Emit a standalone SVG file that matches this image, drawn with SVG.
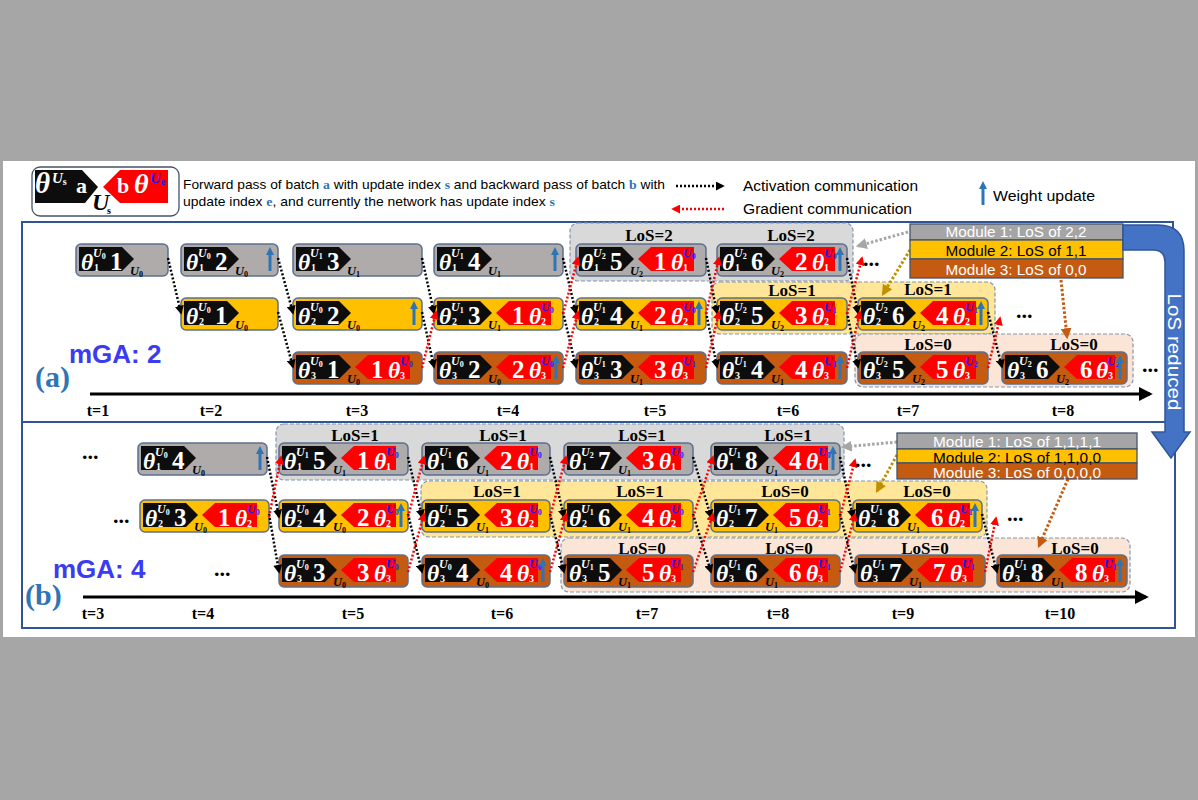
<svg xmlns="http://www.w3.org/2000/svg" xmlns:xlink="http://www.w3.org/1999/xlink" width="1198" height="800" viewBox="0 0 1198 800">
<style>
.box{stroke:#5B7090;stroke-width:1.5}
.g{fill:#AFABAB}.y{fill:#FFC000}.o{fill:#C55A11}
.fw{fill:#0d0d0d}.bw{fill:#FF0000}
.th{font-family:'Liberation Serif',serif;font-style:italic;font-weight:bold;font-size:23.5px;fill:#fff}
.sp{font-family:'Liberation Serif',serif;font-style:italic;font-weight:bold;font-size:12px;fill:#fff}
.bl{fill:#1a1aff}
.ss{font-size:8px;font-style:normal}
.sb{font-family:'Liberation Serif',serif;font-weight:bold;font-size:10px;fill:#fff}
.dg{font-family:'Liberation Serif',serif;font-weight:bold;font-size:25px;fill:#fff}
.ul{font-family:'Liberation Serif',serif;font-style:italic;font-weight:bold;font-size:12.5px;fill:#000}
.grp{stroke:#8497B0;stroke-width:1.2;stroke-dasharray:4 2}
.los{font-family:'Liberation Serif',serif;font-weight:bold;font-size:17px;fill:#000;text-anchor:middle}
.tl{font-family:'Liberation Serif',serif;font-weight:bold;font-size:16px;fill:#000;text-anchor:middle}
.dots{font-family:'Liberation Serif',serif;font-weight:bold;font-size:22px;fill:#000}
.act{fill:none;stroke:#000;stroke-width:2.5;stroke-dasharray:2 2;marker-end:url(#mk)}
.grd{fill:none;stroke:#FF0000;stroke-width:2.5;stroke-dasharray:2 2;marker-end:url(#mr)}
.mod{font-family:'Liberation Sans',sans-serif;font-size:15px;text-anchor:middle}
.mstroke{stroke:#44546A;stroke-width:1.3}
.frame{fill:none;stroke:#2F5597;stroke-width:2}
.leg{font-family:'Liberation Sans',sans-serif;font-size:13.5px;fill:#000}
.lc{font-family:'Liberation Serif',serif;font-weight:bold;fill:#2E75B6}
.mga{font-family:'Liberation Sans',sans-serif;font-weight:bold;font-size:26px;fill:#3B3BF0}
.pl{font-family:'Liberation Serif',serif;font-weight:bold;font-size:30px;fill:#2E75B6}
</style>
<defs>
<marker id="mk" viewBox="0 0 10 10" refX="8" refY="5" markerWidth="9" markerHeight="9" markerUnits="userSpaceOnUse" orient="auto"><path d="M0,0L10,5L0,10Z" fill="#000"/></marker>
<marker id="mr" viewBox="0 0 10 10" refX="8" refY="5" markerWidth="9" markerHeight="9" markerUnits="userSpaceOnUse" orient="auto"><path d="M0,0L10,5L0,10Z" fill="#FF0000"/></marker>
<marker id="mg" viewBox="0 0 10 10" refX="8" refY="5" markerWidth="11" markerHeight="11" markerUnits="userSpaceOnUse" orient="auto"><path d="M0,0L10,5L0,10Z" fill="#A6A6A6"/></marker>
<marker id="my" viewBox="0 0 10 10" refX="8" refY="5" markerWidth="11" markerHeight="11" markerUnits="userSpaceOnUse" orient="auto"><path d="M0,0L10,5L0,10Z" fill="#BF9000"/></marker>
<marker id="mo" viewBox="0 0 10 10" refX="8" refY="5" markerWidth="11" markerHeight="11" markerUnits="userSpaceOnUse" orient="auto"><path d="M0,0L10,5L0,10Z" fill="#C55A11"/></marker>
<marker id="ma" viewBox="0 0 10 10" refX="8" refY="5" markerWidth="14" markerHeight="14" markerUnits="userSpaceOnUse" orient="auto"><path d="M0,0L10,5L0,10Z" fill="#000"/></marker>
<g id="wu"><path d="M0,27V10" stroke="#2E75B6" stroke-width="3"/><path d="M-4,11L0,3L4,11Z" fill="#2E75B6"/></g>
</defs>

<rect width="1198" height="800" fill="#A6A6A6"/>
<rect x="3" y="161" width="1192" height="476" fill="#fff"/>

<!-- Legend -->
<g id="legend">
<g id="legend-key">
<rect x="32" y="167" width="147" height="49" rx="8" fill="#fff" stroke="#44546A" stroke-width="1.3"/>
<path d="M35,170H82L98,187L85,203H35Z" fill="#0d0d0d"/>
<path d="M103,187L120,170H168V203H120Z" fill="#f00"/>
<text x="35" y="193" font-family="'Liberation Serif',serif" font-style="italic" font-weight="bold" font-size="29" fill="#fff">θ</text>
<text x="52" y="183" font-family="'Liberation Serif',serif" font-style="italic" font-weight="bold" font-size="15" fill="#fff">U<tspan font-size="10" font-style="normal" dy="2">s</tspan></text>
<text x="76" y="193" font-family="'Liberation Serif',serif" font-weight="bold" font-size="22" fill="#fff">a</text>
<text x="92" y="210" font-family="'Liberation Serif',serif" font-style="italic" font-weight="bold" font-size="24" fill="#000">U</text>
<text x="107" y="214" font-family="'Liberation Serif',serif" font-weight="bold" font-size="10" fill="#000">s</text>
<text x="117" y="193" font-family="'Liberation Serif',serif" font-weight="bold" font-size="22" fill="#fff">b</text>
<text x="134" y="193" font-family="'Liberation Serif',serif" font-style="italic" font-weight="bold" font-size="28" fill="#fff">θ</text>
<text x="150" y="183" font-family="'Liberation Serif',serif" font-style="italic" font-weight="bold" font-size="15" fill="#1a1aff">U<tspan font-size="10" font-style="normal" dy="2">e</tspan></text>
</g>
<text class="leg" x="183" y="189" textLength="482" lengthAdjust="spacingAndGlyphs">Forward pass of batch <tspan class="lc">a</tspan> with update index <tspan class="lc">s</tspan> and backward pass of batch <tspan class="lc">b</tspan> with</text>
<text class="leg" x="183" y="206" textLength="372" lengthAdjust="spacingAndGlyphs">update index <tspan class="lc">e</tspan>, and currently the network has update index <tspan class="lc">s</tspan></text>
<path d="M676,186H723" class="act"/>
<text x="743" y="191" font-family="'Liberation Sans',sans-serif" font-size="14" textLength="175" lengthAdjust="spacingAndGlyphs">Activation communication</text>
<path d="M724,209H673" class="grd"/>
<text x="743" y="214" font-family="'Liberation Sans',sans-serif" font-size="14" textLength="169" lengthAdjust="spacingAndGlyphs">Gradient communication</text>
<use href="#wu" x="983" y="178"/>
<text x="993" y="201" font-family="'Liberation Sans',sans-serif" font-size="14" textLength="102" lengthAdjust="spacingAndGlyphs">Weight update</text>
</g>

<!-- Panel frames -->
<rect class="frame" x="22" y="222" width="1151" height="200"/>
<rect class="frame" x="22" y="422" width="1153" height="206"/>

<!-- LoS groups panel a -->
<g id="a-groups">
<rect class="grp" x="570" y="223" width="283" height="58" rx="8" fill="#D9D9D9"/>
<rect class="grp" x="712" y="282" width="283" height="52" rx="8" fill="#FFE699"/>
<rect class="grp" x="855" y="334" width="278" height="53" rx="8" fill="#FBE5D6"/>
<text class="los" x="649" y="241">LoS=2</text>
<text class="los" x="791" y="241">LoS=2</text>
<text class="los" x="792" y="296">LoS=1</text>
<text class="los" x="928" y="295">LoS=1</text>
<text class="los" x="928" y="350">LoS=0</text>
<text class="los" x="1074" y="350">LoS=0</text>
</g>

<!-- LoS groups panel b -->
<g id="b-groups">
<rect class="grp" x="276" y="424" width="568" height="56" rx="8" fill="#D9D9D9"/>
<rect class="grp" x="421" y="481" width="566" height="56" rx="8" fill="#FFE699"/>
<rect class="grp" x="561" y="538" width="569" height="54" rx="8" fill="#FBE5D6"/>
<text class="los" x="355" y="441">LoS=1</text>
<text class="los" x="503" y="441">LoS=1</text>
<text class="los" x="642" y="441">LoS=1</text>
<text class="los" x="788" y="441">LoS=1</text>
<text class="los" x="497" y="497">LoS=1</text>
<text class="los" x="640" y="497">LoS=1</text>
<text class="los" x="785" y="497">LoS=0</text>
<text class="los" x="927" y="497">LoS=0</text>
<text class="los" x="642" y="554">LoS=0</text>
<text class="los" x="789" y="554">LoS=0</text>
<text class="los" x="925" y="554">LoS=0</text>
<text class="los" x="1075" y="554">LoS=0</text>
</g>

<!-- Panel a nodes -->
<g id="a-t1-m1" transform="translate(76,244)"><rect class="box g" width="92" height="32" rx="5"/><path class="fw" d="M3,3H46L58,15L46,27H3Z"/><text class="th" x="5" y="26">θ</text><text class="sp" x="17" y="13">U<tspan class="ss" dy="2">0</tspan></text><text class="sb" x="18" y="27">1</text><text class="dg" x="34" y="26">1</text><text class="ul" x="54" y="31">U<tspan class="ss" dy="2">0</tspan></text></g>

<g id="a-t2-m1" transform="translate(181,244)"><rect class="box g" width="97" height="32" rx="5"/><path class="fw" d="M3,3H46L58,15L46,27H3Z"/><text class="th" x="5" y="26">θ</text><text class="sp" x="17" y="13">U<tspan class="ss" dy="2">0</tspan></text><text class="sb" x="18" y="27">1</text><text class="dg" x="34" y="26">2</text><text class="ul" x="54" y="31">U<tspan class="ss" dy="2">0</tspan></text><use href="#wu" x="89"/></g>

<g id="a-t2-m2" transform="translate(181,298)"><rect class="box y" width="97" height="32" rx="5"/><path class="fw" d="M3,3H46L58,15L46,27H3Z"/><text class="th" x="5" y="26">θ</text><text class="sp" x="17" y="13">U<tspan class="ss" dy="2">0</tspan></text><text class="sb" x="18" y="27">2</text><text class="dg" x="34" y="26">1</text><text class="ul" x="54" y="31">U<tspan class="ss" dy="2">0</tspan></text></g>

<g id="a-t3-m1" transform="translate(293,244)"><rect class="box g" width="129" height="32" rx="5"/><path class="fw" d="M3,3H46L58,15L46,27H3Z"/><text class="th" x="5" y="26">θ</text><text class="sp" x="17" y="13">U<tspan class="ss" dy="2">1</tspan></text><text class="sb" x="18" y="27">1</text><text class="dg" x="34" y="26">3</text><text class="ul" x="54" y="31">U<tspan class="ss" dy="2">1</tspan></text></g>

<g id="a-t3-m2" transform="translate(293,298)"><rect class="box y" width="129" height="32" rx="5"/><path class="fw" d="M3,3H46L58,15L46,27H3Z"/><text class="th" x="5" y="26">θ</text><text class="sp" x="17" y="13">U<tspan class="ss" dy="2">0</tspan></text><text class="sb" x="18" y="27">2</text><text class="dg" x="34" y="26">2</text><text class="ul" x="54" y="31">U<tspan class="ss" dy="2">0</tspan></text><use href="#wu" x="121"/></g>

<g id="a-t3-m3" transform="translate(293,352)"><rect class="box o" width="129" height="32" rx="5"/><path class="fw" d="M3,3H46L58,15L46,27H3Z"/><text class="th" x="5" y="26">θ</text><text class="sp" x="17" y="13">U<tspan class="ss" dy="2">0</tspan></text><text class="sb" x="18" y="27">3</text><text class="dg" x="34" y="26">1</text><text class="ul" x="54" y="31">U<tspan class="ss" dy="2">0</tspan></text><path class="bw" d="M62,15L75,3H117V27H75Z"/><text class="dg" x="78" y="26">1</text><text class="th" x="95" y="26">θ</text><text class="sp bl" x="107" y="13">U<tspan class="ss" dy="2">0</tspan></text><text class="sb" x="107" y="27">3</text></g>

<g id="a-t4-m1" transform="translate(434,244)"><rect class="box g" width="129" height="32" rx="5"/><path class="fw" d="M3,3H46L58,15L46,27H3Z"/><text class="th" x="5" y="26">θ</text><text class="sp" x="17" y="13">U<tspan class="ss" dy="2">1</tspan></text><text class="sb" x="18" y="27">1</text><text class="dg" x="34" y="26">4</text><text class="ul" x="54" y="31">U<tspan class="ss" dy="2">1</tspan></text><use href="#wu" x="121"/></g>

<g id="a-t4-m2" transform="translate(434,298)"><rect class="box y" width="129" height="32" rx="5"/><path class="fw" d="M3,3H46L58,15L46,27H3Z"/><text class="th" x="5" y="26">θ</text><text class="sp" x="17" y="13">U<tspan class="ss" dy="2">1</tspan></text><text class="sb" x="18" y="27">2</text><text class="dg" x="34" y="26">3</text><text class="ul" x="54" y="31">U<tspan class="ss" dy="2">1</tspan></text><path class="bw" d="M62,15L75,3H117V27H75Z"/><text class="dg" x="78" y="26">1</text><text class="th" x="95" y="26">θ</text><text class="sp bl" x="107" y="13">U<tspan class="ss" dy="2">0</tspan></text><text class="sb" x="107" y="27">2</text></g>

<g id="a-t4-m3" transform="translate(434,352)"><rect class="box o" width="129" height="32" rx="5"/><path class="fw" d="M3,3H46L58,15L46,27H3Z"/><text class="th" x="5" y="26">θ</text><text class="sp" x="17" y="13">U<tspan class="ss" dy="2">0</tspan></text><text class="sb" x="18" y="27">3</text><text class="dg" x="34" y="26">2</text><text class="ul" x="54" y="31">U<tspan class="ss" dy="2">0</tspan></text><path class="bw" d="M62,15L75,3H117V27H75Z"/><text class="dg" x="78" y="26">2</text><text class="th" x="95" y="26">θ</text><text class="sp bl" x="107" y="13">U<tspan class="ss" dy="2">0</tspan></text><text class="sb" x="107" y="27">3</text><use href="#wu" x="122"/></g>

<g id="a-t5-m1" transform="translate(576,244)"><rect class="box g" width="130" height="32" rx="5"/><path class="fw" d="M3,3H46L58,15L46,27H3Z"/><text class="th" x="5" y="26">θ</text><text class="sp" x="17" y="13">U<tspan class="ss" dy="2">2</tspan></text><text class="sb" x="18" y="27">1</text><text class="dg" x="34" y="26">5</text><text class="ul" x="54" y="31">U<tspan class="ss" dy="2">2</tspan></text><path class="bw" d="M62,15L75,3H118V27H75Z"/><text class="dg" x="78" y="26">1</text><text class="th" x="95" y="26">θ</text><text class="sp bl" x="107" y="13">U<tspan class="ss" dy="2">0</tspan></text><text class="sb" x="107" y="27">1</text></g>

<g id="a-t5-m2" transform="translate(576,298)"><rect class="box y" width="130" height="32" rx="5"/><path class="fw" d="M3,3H46L58,15L46,27H3Z"/><text class="th" x="5" y="26">θ</text><text class="sp" x="17" y="13">U<tspan class="ss" dy="2">1</tspan></text><text class="sb" x="18" y="27">2</text><text class="dg" x="34" y="26">4</text><text class="ul" x="54" y="31">U<tspan class="ss" dy="2">1</tspan></text><path class="bw" d="M62,15L75,3H118V27H75Z"/><text class="dg" x="78" y="26">2</text><text class="th" x="95" y="26">θ</text><text class="sp bl" x="107" y="13">U<tspan class="ss" dy="2">0</tspan></text><text class="sb" x="107" y="27">2</text><use href="#wu" x="123"/></g>

<g id="a-t5-m3" transform="translate(576,352)"><rect class="box o" width="130" height="32" rx="5"/><path class="fw" d="M3,3H46L58,15L46,27H3Z"/><text class="th" x="5" y="26">θ</text><text class="sp" x="17" y="13">U<tspan class="ss" dy="2">1</tspan></text><text class="sb" x="18" y="27">3</text><text class="dg" x="34" y="26">3</text><text class="ul" x="54" y="31">U<tspan class="ss" dy="2">1</tspan></text><path class="bw" d="M62,15L75,3H118V27H75Z"/><text class="dg" x="78" y="26">3</text><text class="th" x="95" y="26">θ</text><text class="sp bl" x="107" y="13">U<tspan class="ss" dy="2">1</tspan></text><text class="sb" x="107" y="27">3</text></g>

<g id="a-t6-m1" transform="translate(717,244)"><rect class="box g" width="130" height="32" rx="5"/><path class="fw" d="M3,3H46L58,15L46,27H3Z"/><text class="th" x="5" y="26">θ</text><text class="sp" x="17" y="13">U<tspan class="ss" dy="2">2</tspan></text><text class="sb" x="18" y="27">1</text><text class="dg" x="34" y="26">6</text><text class="ul" x="54" y="31">U<tspan class="ss" dy="2">2</tspan></text><path class="bw" d="M62,15L75,3H118V27H75Z"/><text class="dg" x="78" y="26">2</text><text class="th" x="95" y="26">θ</text><text class="sp bl" x="107" y="13">U<tspan class="ss" dy="2">0</tspan></text><text class="sb" x="107" y="27">1</text><use href="#wu" x="123"/></g>

<g id="a-t6-m2" transform="translate(717,298)"><rect class="box y" width="130" height="32" rx="5"/><path class="fw" d="M3,3H46L58,15L46,27H3Z"/><text class="th" x="5" y="26">θ</text><text class="sp" x="17" y="13">U<tspan class="ss" dy="2">2</tspan></text><text class="sb" x="18" y="27">2</text><text class="dg" x="34" y="26">5</text><text class="ul" x="54" y="31">U<tspan class="ss" dy="2">2</tspan></text><path class="bw" d="M62,15L75,3H118V27H75Z"/><text class="dg" x="78" y="26">3</text><text class="th" x="95" y="26">θ</text><text class="sp bl" x="107" y="13">U<tspan class="ss" dy="2">1</tspan></text><text class="sb" x="107" y="27">2</text></g>

<g id="a-t6-m3" transform="translate(717,352)"><rect class="box o" width="130" height="32" rx="5"/><path class="fw" d="M3,3H46L58,15L46,27H3Z"/><text class="th" x="5" y="26">θ</text><text class="sp" x="17" y="13">U<tspan class="ss" dy="2">1</tspan></text><text class="sb" x="18" y="27">3</text><text class="dg" x="34" y="26">4</text><text class="ul" x="54" y="31">U<tspan class="ss" dy="2">1</tspan></text><path class="bw" d="M62,15L75,3H118V27H75Z"/><text class="dg" x="78" y="26">4</text><text class="th" x="95" y="26">θ</text><text class="sp bl" x="107" y="13">U<tspan class="ss" dy="2">1</tspan></text><text class="sb" x="107" y="27">3</text><use href="#wu" x="123"/></g>

<g id="a-t7-m2" transform="translate(858,298)"><rect class="box y" width="130" height="32" rx="5"/><path class="fw" d="M3,3H46L58,15L46,27H3Z"/><text class="th" x="5" y="26">θ</text><text class="sp" x="17" y="13">U<tspan class="ss" dy="2">2</tspan></text><text class="sb" x="18" y="27">2</text><text class="dg" x="34" y="26">6</text><text class="ul" x="54" y="31">U<tspan class="ss" dy="2">2</tspan></text><path class="bw" d="M62,15L75,3H118V27H75Z"/><text class="dg" x="78" y="26">4</text><text class="th" x="95" y="26">θ</text><text class="sp bl" x="107" y="13">U<tspan class="ss" dy="2">1</tspan></text><text class="sb" x="107" y="27">2</text><use href="#wu" x="123"/></g>

<g id="a-t7-m3" transform="translate(858,352)"><rect class="box o" width="130" height="32" rx="5"/><path class="fw" d="M3,3H46L58,15L46,27H3Z"/><text class="th" x="5" y="26">θ</text><text class="sp" x="17" y="13">U<tspan class="ss" dy="2">2</tspan></text><text class="sb" x="18" y="27">3</text><text class="dg" x="34" y="26">5</text><text class="ul" x="54" y="31">U<tspan class="ss" dy="2">2</tspan></text><path class="bw" d="M62,15L75,3H118V27H75Z"/><text class="dg" x="78" y="26">5</text><text class="th" x="95" y="26">θ</text><text class="sp bl" x="107" y="13">U<tspan class="ss" dy="2">2</tspan></text><text class="sb" x="107" y="27">3</text></g>

<g id="a-t8-m3" transform="translate(1002,352)"><rect class="box o" width="125" height="32" rx="5"/><path class="fw" d="M3,3H46L58,15L46,27H3Z"/><text class="th" x="5" y="26">θ</text><text class="sp" x="17" y="13">U<tspan class="ss" dy="2">2</tspan></text><text class="sb" x="18" y="27">3</text><text class="dg" x="34" y="26">6</text><text class="ul" x="54" y="31">U<tspan class="ss" dy="2">2</tspan></text><path class="bw" d="M62,15L75,3H113V27H75Z"/><text class="dg" x="78" y="26">6</text><text class="th" x="94" y="26">θ</text><text class="sp bl" x="105" y="13">U<tspan class="ss" dy="2">2</tspan></text><text class="sb" x="106" y="27">3</text><use href="#wu" x="118"/></g>

<!-- Panel b nodes -->
<g id="b-t4-m1" transform="translate(138,443)"><rect class="box g" width="129" height="32" rx="5"/><path class="fw" d="M3,3H46L58,15L46,27H3Z"/><text class="th" x="5" y="26">θ</text><text class="sp" x="17" y="13">U<tspan class="ss" dy="2">0</tspan></text><text class="sb" x="18" y="27">1</text><text class="dg" x="34" y="26">4</text><text class="ul" x="54" y="31">U<tspan class="ss" dy="2">0</tspan></text><use href="#wu" x="122"/></g>

<g id="b-t4-m2" transform="translate(140,500)"><rect class="box y" width="129" height="32" rx="5"/><path class="fw" d="M3,3H46L58,15L46,27H3Z"/><text class="th" x="5" y="26">θ</text><text class="sp" x="17" y="13">U<tspan class="ss" dy="2">0</tspan></text><text class="sb" x="18" y="27">2</text><text class="dg" x="34" y="26">3</text><text class="ul" x="54" y="31">U<tspan class="ss" dy="2">0</tspan></text><path class="bw" d="M62,15L75,3H117V27H75Z"/><text class="dg" x="78" y="26">1</text><text class="th" x="95" y="26">θ</text><text class="sp bl" x="107" y="13">U<tspan class="ss" dy="2">0</tspan></text><text class="sb" x="107" y="27">2</text></g>

<g id="b-t5-m1" transform="translate(279,443)"><rect class="box g" width="129" height="32" rx="5"/><path class="fw" d="M3,3H46L58,15L46,27H3Z"/><text class="th" x="5" y="26">θ</text><text class="sp" x="17" y="13">U<tspan class="ss" dy="2">1</tspan></text><text class="sb" x="18" y="27">1</text><text class="dg" x="34" y="26">5</text><text class="ul" x="54" y="31">U<tspan class="ss" dy="2">1</tspan></text><path class="bw" d="M62,15L75,3H117V27H75Z"/><text class="dg" x="78" y="26">1</text><text class="th" x="95" y="26">θ</text><text class="sp bl" x="107" y="13">U<tspan class="ss" dy="2">0</tspan></text><text class="sb" x="107" y="27">1</text></g>

<g id="b-t5-m2" transform="translate(279,500)"><rect class="box y" width="129" height="32" rx="5"/><path class="fw" d="M3,3H46L58,15L46,27H3Z"/><text class="th" x="5" y="26">θ</text><text class="sp" x="17" y="13">U<tspan class="ss" dy="2">0</tspan></text><text class="sb" x="18" y="27">2</text><text class="dg" x="34" y="26">4</text><text class="ul" x="54" y="31">U<tspan class="ss" dy="2">0</tspan></text><path class="bw" d="M62,15L75,3H117V27H75Z"/><text class="dg" x="78" y="26">2</text><text class="th" x="95" y="26">θ</text><text class="sp bl" x="107" y="13">U<tspan class="ss" dy="2">0</tspan></text><text class="sb" x="107" y="27">2</text><use href="#wu" x="122"/></g>

<g id="b-t5-m3" transform="translate(279,555)"><rect class="box o" width="129" height="32" rx="5"/><path class="fw" d="M3,3H46L58,15L46,27H3Z"/><text class="th" x="5" y="26">θ</text><text class="sp" x="17" y="13">U<tspan class="ss" dy="2">0</tspan></text><text class="sb" x="18" y="27">3</text><text class="dg" x="34" y="26">3</text><text class="ul" x="54" y="31">U<tspan class="ss" dy="2">0</tspan></text><path class="bw" d="M62,15L75,3H117V27H75Z"/><text class="dg" x="78" y="26">3</text><text class="th" x="95" y="26">θ</text><text class="sp bl" x="107" y="13">U<tspan class="ss" dy="2">0</tspan></text><text class="sb" x="107" y="27">3</text></g>

<g id="b-t6-m1" transform="translate(422,443)"><rect class="box g" width="128" height="32" rx="5"/><path class="fw" d="M3,3H46L58,15L46,27H3Z"/><text class="th" x="5" y="26">θ</text><text class="sp" x="17" y="13">U<tspan class="ss" dy="2">1</tspan></text><text class="sb" x="18" y="27">1</text><text class="dg" x="34" y="26">6</text><text class="ul" x="54" y="31">U<tspan class="ss" dy="2">1</tspan></text><path class="bw" d="M62,15L75,3H116V27H75Z"/><text class="dg" x="78" y="26">2</text><text class="th" x="95" y="26">θ</text><text class="sp bl" x="107" y="13">U<tspan class="ss" dy="2">0</tspan></text><text class="sb" x="107" y="27">1</text></g>

<g id="b-t6-m2" transform="translate(422,500)"><rect class="box y" width="128" height="32" rx="5"/><path class="fw" d="M3,3H46L58,15L46,27H3Z"/><text class="th" x="5" y="26">θ</text><text class="sp" x="17" y="13">U<tspan class="ss" dy="2">1</tspan></text><text class="sb" x="18" y="27">2</text><text class="dg" x="34" y="26">5</text><text class="ul" x="54" y="31">U<tspan class="ss" dy="2">1</tspan></text><path class="bw" d="M62,15L75,3H116V27H75Z"/><text class="dg" x="78" y="26">3</text><text class="th" x="95" y="26">θ</text><text class="sp bl" x="107" y="13">U<tspan class="ss" dy="2">0</tspan></text><text class="sb" x="107" y="27">2</text></g>

<g id="b-t6-m3" transform="translate(422,555)"><rect class="box o" width="128" height="32" rx="5"/><path class="fw" d="M3,3H46L58,15L46,27H3Z"/><text class="th" x="5" y="26">θ</text><text class="sp" x="17" y="13">U<tspan class="ss" dy="2">0</tspan></text><text class="sb" x="18" y="27">3</text><text class="dg" x="34" y="26">4</text><text class="ul" x="54" y="31">U<tspan class="ss" dy="2">0</tspan></text><path class="bw" d="M62,15L75,3H116V27H75Z"/><text class="dg" x="78" y="26">4</text><text class="th" x="95" y="26">θ</text><text class="sp bl" x="107" y="13">U<tspan class="ss" dy="2">0</tspan></text><text class="sb" x="107" y="27">3</text><use href="#wu" x="121"/></g>

<g id="b-t7-m1" transform="translate(564,443)"><rect class="box g" width="129" height="32" rx="5"/><path class="fw" d="M3,3H46L58,15L46,27H3Z"/><text class="th" x="5" y="26">θ</text><text class="sp" x="17" y="13">U<tspan class="ss" dy="2">2</tspan></text><text class="sb" x="18" y="27">1</text><text class="dg" x="34" y="26">7</text><text class="ul" x="54" y="31">U<tspan class="ss" dy="2">1</tspan></text><path class="bw" d="M62,15L75,3H117V27H75Z"/><text class="dg" x="78" y="26">3</text><text class="th" x="95" y="26">θ</text><text class="sp bl" x="107" y="13">U<tspan class="ss" dy="2">0</tspan></text><text class="sb" x="107" y="27">1</text></g>

<g id="b-t7-m2" transform="translate(564,500)"><rect class="box y" width="129" height="32" rx="5"/><path class="fw" d="M3,3H46L58,15L46,27H3Z"/><text class="th" x="5" y="26">θ</text><text class="sp" x="17" y="13">U<tspan class="ss" dy="2">1</tspan></text><text class="sb" x="18" y="27">2</text><text class="dg" x="34" y="26">6</text><text class="ul" x="54" y="31">U<tspan class="ss" dy="2">1</tspan></text><path class="bw" d="M62,15L75,3H117V27H75Z"/><text class="dg" x="78" y="26">4</text><text class="th" x="95" y="26">θ</text><text class="sp bl" x="107" y="13">U<tspan class="ss" dy="2">0</tspan></text><text class="sb" x="107" y="27">2</text></g>

<g id="b-t7-m3" transform="translate(564,555)"><rect class="box o" width="129" height="32" rx="5"/><path class="fw" d="M3,3H46L58,15L46,27H3Z"/><text class="th" x="5" y="26">θ</text><text class="sp" x="17" y="13">U<tspan class="ss" dy="2">1</tspan></text><text class="sb" x="18" y="27">3</text><text class="dg" x="34" y="26">5</text><text class="ul" x="54" y="31">U<tspan class="ss" dy="2">1</tspan></text><path class="bw" d="M62,15L75,3H117V27H75Z"/><text class="dg" x="78" y="26">5</text><text class="th" x="95" y="26">θ</text><text class="sp bl" x="107" y="13">U<tspan class="ss" dy="2">1</tspan></text><text class="sb" x="107" y="27">3</text></g>

<g id="b-t8-m1" transform="translate(711,443)"><rect class="box g" width="129" height="32" rx="5"/><path class="fw" d="M3,3H46L58,15L46,27H3Z"/><text class="th" x="5" y="26">θ</text><text class="sp" x="17" y="13">U<tspan class="ss" dy="2">1</tspan></text><text class="sb" x="18" y="27">1</text><text class="dg" x="34" y="26">8</text><text class="ul" x="54" y="31">U<tspan class="ss" dy="2">1</tspan></text><path class="bw" d="M62,15L75,3H117V27H75Z"/><text class="dg" x="78" y="26">4</text><text class="th" x="95" y="26">θ</text><text class="sp bl" x="107" y="13">U<tspan class="ss" dy="2">0</tspan></text><text class="sb" x="107" y="27">1</text><use href="#wu" x="122"/></g>

<g id="b-t8-m2" transform="translate(711,500)"><rect class="box y" width="129" height="32" rx="5"/><path class="fw" d="M3,3H46L58,15L46,27H3Z"/><text class="th" x="5" y="26">θ</text><text class="sp" x="17" y="13">U<tspan class="ss" dy="2">1</tspan></text><text class="sb" x="18" y="27">2</text><text class="dg" x="34" y="26">7</text><text class="ul" x="54" y="31">U<tspan class="ss" dy="2">1</tspan></text><path class="bw" d="M62,15L75,3H117V27H75Z"/><text class="dg" x="78" y="26">5</text><text class="th" x="95" y="26">θ</text><text class="sp bl" x="107" y="13">U<tspan class="ss" dy="2">1</tspan></text><text class="sb" x="107" y="27">2</text></g>

<g id="b-t8-m3" transform="translate(711,555)"><rect class="box o" width="129" height="32" rx="5"/><path class="fw" d="M3,3H46L58,15L46,27H3Z"/><text class="th" x="5" y="26">θ</text><text class="sp" x="17" y="13">U<tspan class="ss" dy="2">1</tspan></text><text class="sb" x="18" y="27">3</text><text class="dg" x="34" y="26">6</text><text class="ul" x="54" y="31">U<tspan class="ss" dy="2">1</tspan></text><path class="bw" d="M62,15L75,3H117V27H75Z"/><text class="dg" x="78" y="26">6</text><text class="th" x="95" y="26">θ</text><text class="sp bl" x="107" y="13">U<tspan class="ss" dy="2">1</tspan></text><text class="sb" x="107" y="27">3</text></g>

<g id="b-t9-m2" transform="translate(853,500)"><rect class="box y" width="129" height="32" rx="5"/><path class="fw" d="M3,3H46L58,15L46,27H3Z"/><text class="th" x="5" y="26">θ</text><text class="sp" x="17" y="13">U<tspan class="ss" dy="2">1</tspan></text><text class="sb" x="18" y="27">2</text><text class="dg" x="34" y="26">8</text><text class="ul" x="54" y="31">U<tspan class="ss" dy="2">1</tspan></text><path class="bw" d="M62,15L75,3H117V27H75Z"/><text class="dg" x="78" y="26">6</text><text class="th" x="95" y="26">θ</text><text class="sp bl" x="107" y="13">U<tspan class="ss" dy="2">1</tspan></text><text class="sb" x="107" y="27">2</text><use href="#wu" x="122"/></g>

<g id="b-t9-m3" transform="translate(855,555)"><rect class="box o" width="130" height="32" rx="5"/><path class="fw" d="M3,3H46L58,15L46,27H3Z"/><text class="th" x="5" y="26">θ</text><text class="sp" x="17" y="13">U<tspan class="ss" dy="2">1</tspan></text><text class="sb" x="18" y="27">3</text><text class="dg" x="34" y="26">7</text><text class="ul" x="54" y="31">U<tspan class="ss" dy="2">1</tspan></text><path class="bw" d="M62,15L75,3H118V27H75Z"/><text class="dg" x="78" y="26">7</text><text class="th" x="95" y="26">θ</text><text class="sp bl" x="107" y="13">U<tspan class="ss" dy="2">1</tspan></text><text class="sb" x="107" y="27">3</text></g>

<g id="b-t10-m3" transform="translate(997,555)"><rect class="box o" width="130" height="32" rx="5"/><path class="fw" d="M3,3H46L58,15L46,27H3Z"/><text class="th" x="5" y="26">θ</text><text class="sp" x="17" y="13">U<tspan class="ss" dy="2">1</tspan></text><text class="sb" x="18" y="27">3</text><text class="dg" x="34" y="26">8</text><text class="ul" x="54" y="31">U<tspan class="ss" dy="2">1</tspan></text><path class="bw" d="M62,15L75,3H118V27H75Z"/><text class="dg" x="78" y="26">8</text><text class="th" x="95" y="26">θ</text><text class="sp bl" x="107" y="13">U<tspan class="ss" dy="2">1</tspan></text><text class="sb" x="107" y="27">3</text><use href="#wu" x="123"/></g>

<!-- Connectors -->
<g id="connectors">
<path class="act" d="M168,258L181,313"/>
<path class="act" d="M278,258L293,313"/>
<path class="act" d="M278,312L293,367"/>
<path class="act" d="M422,258L434,313"/>
<path class="act" d="M422,312L434,367"/>
<path class="act" d="M563,258L576,313"/>
<path class="act" d="M563,312L576,367"/>
<path class="act" d="M706,258L717,313"/>
<path class="act" d="M706,312L717,367"/>
<path class="act" d="M847,258L858,313"/>
<path class="act" d="M847,312L858,367"/>
<path class="act" d="M988,312L1002,367"/>
<path class="grd" d="M422,368L436,312"/>
<path class="grd" d="M563,314L578,258"/>
<path class="grd" d="M563,368L578,312"/>
<path class="grd" d="M706,314L719,258"/>
<path class="grd" d="M706,368L719,312"/>
<path class="grd" d="M847,314L862,258"/>
<path class="grd" d="M847,368L860,312"/>
<path class="grd" d="M988,368L1000,318"/>

<path class="act" d="M267,457L279,517"/>
<path class="act" d="M269,514L279,572"/>
<path class="act" d="M408,457L422,517"/>
<path class="act" d="M408,514L422,572"/>
<path class="act" d="M550,457L564,517"/>
<path class="act" d="M550,514L564,572"/>
<path class="act" d="M693,457L711,517"/>
<path class="act" d="M693,514L711,572"/>
<path class="act" d="M840,457L853,517"/>
<path class="act" d="M840,514L855,572"/>
<path class="act" d="M982,514L997,572"/>
<path class="grd" d="M269,517L281,457"/>
<path class="grd" d="M408,517L424,457"/>
<path class="grd" d="M408,572L424,514"/>
<path class="grd" d="M550,517L566,457"/>
<path class="grd" d="M550,572L566,514"/>
<path class="grd" d="M693,517L713,457"/>
<path class="grd" d="M693,572L713,514"/>
<path class="grd" d="M840,517L855,460"/>
<path class="grd" d="M840,572L855,514"/>
<path class="grd" d="M985,572L996,518"/>

<path d="M908,232L858,246" fill="none" stroke="#A6A6A6" stroke-width="3" stroke-dasharray="2.5 2" marker-end="url(#mg)"/>
<path d="M910,250L883,294" fill="none" stroke="#BF9000" stroke-width="3" stroke-dasharray="2.5 2" marker-end="url(#my)"/>
<path d="M1061,280L1067,337" fill="none" stroke="#C55A11" stroke-width="3" stroke-dasharray="2.5 2" marker-end="url(#mo)"/>
<path d="M897,442L843,447" fill="none" stroke="#A6A6A6" stroke-width="3" stroke-dasharray="2.5 2" marker-end="url(#mg)"/>
<path d="M897,455L877,491" fill="none" stroke="#BF9000" stroke-width="3" stroke-dasharray="2.5 2" marker-end="url(#my)"/>
<path d="M1068,479L1039,546" fill="none" stroke="#C55A11" stroke-width="3" stroke-dasharray="2.5 2" marker-end="url(#mo)"/>
</g>

<!-- Ellipses -->
<g id="ellipses">
<text class="dots" x="863" y="266">...</text>
<text class="dots" x="1016" y="318">...</text>
<text class="dots" x="1142" y="372">...</text>
<text class="dots" x="82" y="459">...</text>
<text class="dots" x="113" y="523">...</text>
<text class="dots" x="214" y="576">...</text>
<text class="dots" x="855" y="467">...</text>
<text class="dots" x="1007" y="521">...</text>
</g>

<!-- Module boxes -->
<g id="a-modules">
<rect class="mstroke" x="910" y="224" width="213" height="16" fill="#A5A5A5"/>
<rect class="mstroke" x="910" y="240" width="213" height="19" fill="#FFC000"/>
<rect class="mstroke" x="910" y="259" width="213" height="19" fill="#C55A11"/>
<text class="mod" x="1016" y="237" fill="#fff" textLength="141" lengthAdjust="spacingAndGlyphs">Module 1: LoS of 2,2</text>
<text class="mod" x="1016" y="256" fill="#000" textLength="141" lengthAdjust="spacingAndGlyphs">Module 2: LoS of 1,1</text>
<text class="mod" x="1016" y="275" fill="#fff" textLength="141" lengthAdjust="spacingAndGlyphs">Module 3: LoS of 0,0</text>
</g>
<g id="b-modules">
<rect class="mstroke" x="897" y="433" width="240" height="16" fill="#A5A5A5"/>
<rect class="mstroke" x="897" y="449" width="240" height="14" fill="#FFC000"/>
<rect class="mstroke" x="897" y="463" width="240" height="16" fill="#C55A11"/>
<text class="mod" x="1017" y="447" fill="#fff" font-size="16" textLength="168" lengthAdjust="spacingAndGlyphs">Module 1: LoS of 1,1,1,1</text>
<text class="mod" x="1017" y="463" fill="#000" font-size="16" textLength="168" lengthAdjust="spacingAndGlyphs">Module 2: LoS of 1,1,0,0</text>
<text class="mod" x="1017" y="478" fill="#fff" font-size="16" textLength="168" lengthAdjust="spacingAndGlyphs">Module 3: LoS of 0,0,0,0</text>
</g>

<!-- LoS reduced arrow -->
<g id="los-reduced">
<path d="M1123,225H1158Q1184,225 1184,251V432H1190L1171,458L1152,432H1165V262Q1165,250 1153,250H1123Z" fill="#4472C4" stroke="#2F5597" stroke-width="1.5"/>
<text transform="translate(1168,352) rotate(90)" text-anchor="middle" font-family="'Liberation Sans',sans-serif" font-size="19" fill="#fff" textLength="117" lengthAdjust="spacingAndGlyphs">LoS reduced</text>
</g>

<!-- Axes -->
<g id="axis-a">
<path d="M90,394H1150" stroke="#000" stroke-width="3" marker-end="url(#ma)"/>
<text class="tl" x="98" y="416">t=1</text>
<text class="tl" x="211" y="416">t=2</text>
<text class="tl" x="357" y="416">t=3</text>
<text class="tl" x="508" y="416">t=4</text>
<text class="tl" x="655" y="416">t=5</text>
<text class="tl" x="788" y="416">t=6</text>
<text class="tl" x="908" y="416">t=7</text>
<text class="tl" x="1063" y="416">t=8</text>
</g>
<g id="axis-b">
<path d="M83,597H1146" stroke="#000" stroke-width="3" marker-end="url(#ma)"/>
<text class="tl" x="93" y="619">t=3</text>
<text class="tl" x="203" y="619">t=4</text>
<text class="tl" x="353" y="619">t=5</text>
<text class="tl" x="502" y="619">t=6</text>
<text class="tl" x="647" y="619">t=7</text>
<text class="tl" x="778" y="619">t=8</text>
<text class="tl" x="903" y="619">t=9</text>
<text class="tl" x="1060" y="619">t=10</text>
</g>

<text class="mga" x="69" y="363">mGA: 2</text>
<text class="pl" x="35" y="387">(a)</text>
<text class="mga" x="53" y="578">mGA: 4</text>
<text class="pl" x="25" y="605">(b)</text>
</svg>
